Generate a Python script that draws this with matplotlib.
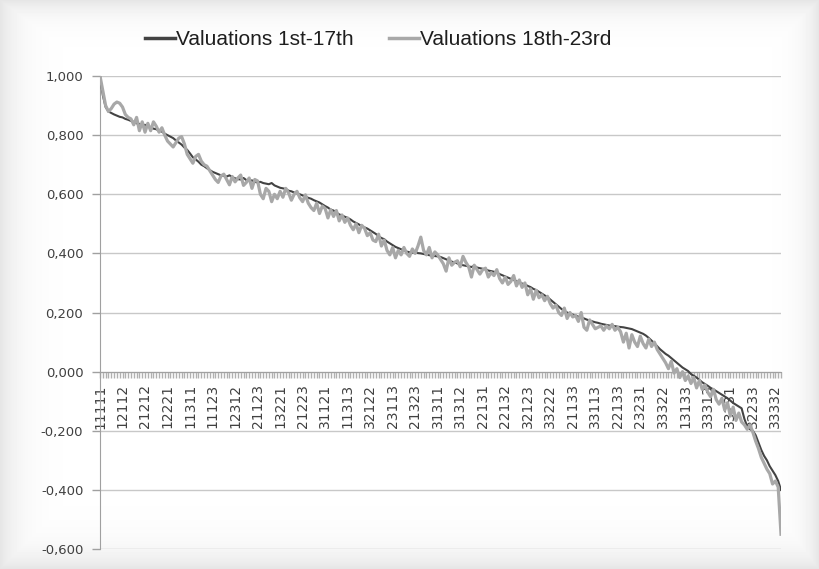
import numpy as np
import matplotlib
matplotlib.use("Agg")
import matplotlib.pyplot as plt
from matplotlib.ticker import FuncFormatter, MultipleLocator

# category labels shown on the axis (every 8th of 243 categories)
tick_labels = ["11111", "12112", "21212", "12221", "11311", "11123", "12312", "21123",
               "13221", "21223", "31121", "11313", "32122", "23113", "21323", "31311",
               "31312", "22131", "22132", "32123", "33222", "21133", "33113", "22133",
               "23231", "33322", "13133", "33313", "33231", "32233", "33332"]
label_step = 8

# Valuations 1st-17th (dark line)
val_1_17 = [
    1.000, 0.935, 0.895, 0.880, 0.875, 0.870, 0.866, 0.862, 0.860, 0.855,
    0.852, 0.848, 0.845, 0.840, 0.838, 0.832, 0.835, 0.828, 0.826, 0.822,
    0.820, 0.815, 0.812, 0.805, 0.800, 0.795, 0.790, 0.782, 0.775, 0.768,
    0.758, 0.750, 0.738, 0.725, 0.718, 0.710, 0.700, 0.695, 0.688, 0.682,
    0.676, 0.672, 0.668, 0.664, 0.662, 0.660, 0.664, 0.658, 0.654, 0.651,
    0.650, 0.655, 0.648, 0.645, 0.647, 0.642, 0.640, 0.642, 0.638, 0.636,
    0.634, 0.638, 0.630, 0.626, 0.622, 0.620, 0.618, 0.612, 0.610, 0.606,
    0.603, 0.600, 0.596, 0.592, 0.588, 0.585, 0.580, 0.576, 0.572, 0.566,
    0.560, 0.555, 0.548, 0.545, 0.538, 0.532, 0.528, 0.524, 0.520, 0.515,
    0.508, 0.503, 0.498, 0.492, 0.488, 0.484, 0.478, 0.472, 0.466, 0.458,
    0.452, 0.448, 0.440, 0.434, 0.428, 0.422, 0.418, 0.414, 0.410, 0.406,
    0.404, 0.402, 0.405, 0.401, 0.400, 0.398, 0.396, 0.394, 0.392, 0.391,
    0.390, 0.388, 0.384, 0.380, 0.376, 0.372, 0.370, 0.366, 0.362, 0.360,
    0.358, 0.356, 0.354, 0.358, 0.352, 0.350, 0.348, 0.346, 0.342, 0.340,
    0.338, 0.335, 0.330, 0.326, 0.322, 0.318, 0.314, 0.310, 0.306, 0.302,
    0.298, 0.295, 0.290, 0.286, 0.280, 0.276, 0.270, 0.264, 0.258, 0.252,
    0.244, 0.236, 0.228, 0.220, 0.212, 0.206, 0.200, 0.196, 0.193, 0.190,
    0.186, 0.183, 0.180, 0.176, 0.173, 0.170, 0.167, 0.165, 0.162, 0.160,
    0.158, 0.156, 0.155, 0.154, 0.152, 0.151, 0.150, 0.148, 0.146, 0.144,
    0.140, 0.136, 0.132, 0.128, 0.122, 0.114, 0.105, 0.096, 0.086, 0.076,
    0.068, 0.060, 0.054, 0.046, 0.038, 0.030, 0.022, 0.014, 0.008, 0.002,
    -0.008, -0.014, -0.020, -0.028, -0.036, -0.042, -0.048, -0.055, -0.060, -0.066,
    -0.072, -0.078, -0.084, -0.090, -0.098, -0.106, -0.112, -0.118, -0.124, -0.160,
    -0.185, -0.195, -0.200, -0.215, -0.240, -0.265, -0.285, -0.300, -0.320, -0.335,
    -0.350, -0.370, -0.400,
]

# Valuations 18th-23rd (light line)
val_18_23 = [
    1.000, 0.950, 0.900, 0.880, 0.890, 0.905, 0.912, 0.908, 0.895, 0.870,
    0.860, 0.855, 0.835, 0.860, 0.815, 0.845, 0.810, 0.840, 0.815, 0.845,
    0.830, 0.810, 0.825, 0.800, 0.780, 0.770, 0.760, 0.775, 0.790, 0.795,
    0.770, 0.735, 0.720, 0.705, 0.728, 0.735, 0.712, 0.700, 0.695, 0.680,
    0.665, 0.650, 0.640, 0.662, 0.668, 0.650, 0.632, 0.660, 0.642, 0.655,
    0.665, 0.630, 0.640, 0.655, 0.620, 0.650, 0.645, 0.600, 0.585, 0.620,
    0.610, 0.575, 0.600, 0.585, 0.610, 0.590, 0.620, 0.605, 0.580, 0.600,
    0.610, 0.588, 0.575, 0.598, 0.570, 0.555, 0.545, 0.570, 0.535, 0.560,
    0.552, 0.520, 0.548, 0.525, 0.545, 0.510, 0.530, 0.505, 0.520, 0.495,
    0.480, 0.500, 0.470, 0.495, 0.485, 0.460, 0.470, 0.445, 0.440, 0.465,
    0.425, 0.445, 0.410, 0.395, 0.420, 0.385, 0.410, 0.395, 0.420, 0.400,
    0.390, 0.415, 0.400, 0.425, 0.455, 0.410, 0.395, 0.420, 0.385, 0.405,
    0.395, 0.380, 0.365, 0.340, 0.385, 0.360, 0.370, 0.375, 0.355, 0.390,
    0.370, 0.355, 0.320, 0.360, 0.345, 0.330, 0.345, 0.350, 0.320, 0.335,
    0.325, 0.345, 0.315, 0.300, 0.320, 0.295, 0.305, 0.325, 0.290, 0.310,
    0.285, 0.300, 0.260, 0.280, 0.245, 0.275, 0.250, 0.260, 0.240, 0.255,
    0.230, 0.215, 0.225, 0.200, 0.190, 0.215, 0.180, 0.200, 0.185, 0.190,
    0.170, 0.200, 0.150, 0.140, 0.175, 0.160, 0.145, 0.150, 0.155, 0.140,
    0.155, 0.145, 0.160, 0.140, 0.150, 0.135, 0.100, 0.130, 0.080, 0.125,
    0.100, 0.085, 0.120, 0.095, 0.080, 0.110, 0.085, 0.100, 0.075, 0.060,
    0.045, 0.030, 0.010, 0.035, -0.005, 0.010, -0.020, 0.000, -0.030, -0.015,
    -0.040, -0.020, -0.055, -0.030, -0.060, -0.045, -0.070, -0.085, -0.060, -0.095,
    -0.110, -0.090, -0.130, -0.105, -0.150, -0.120, -0.165, -0.140, -0.170, -0.180,
    -0.195, -0.180, -0.205, -0.235, -0.260, -0.290, -0.310, -0.330, -0.345, -0.380,
    -0.370, -0.390, -0.550,
]

series_names = ["Valuations 1st-17th", "Valuations 18th-23rd"]

n = len(val_1_17)
x = np.arange(n)

fig = plt.figure(figsize=(8.19, 5.69), dpi=100)
fig.patch.set_facecolor("white")

# soft grey edge like the scanned original
bg = fig.add_axes([0, 0, 1, 1], zorder=-1)
h, w = 569, 819
yy, xx = np.mgrid[0:h, 0:w]
d = np.minimum.reduce([xx / 1.6, (w - 1 - xx) / 1.2, yy / 1.2, (h - 1 - yy) / 1.6])
shade = 1 - 0.10 * np.exp(-d / 12.0)
bg.imshow(shade, cmap="gray", vmin=0, vmax=1, aspect="auto", interpolation="bilinear")
bg.axis("off")

ax = fig.add_axes([0.1221, 0.0351, 0.8315, 0.8313])
ax.patch.set_alpha(0)

ax.plot(x, val_1_17, color="#434343", lw=1.5, label=series_names[0], zorder=3)
ax.plot(x, val_18_23, color="#a8a8a8", lw=2.3, label=series_names[1], zorder=4)

ax.set_xlim(0, n - 1)
ax.set_ylim(-0.6, 1.0)

# y axis: comma decimals like the original spreadsheet
ax.yaxis.set_major_locator(MultipleLocator(0.2))
ax.yaxis.set_major_formatter(FuncFormatter(lambda v, p: f"{v:.3f}".replace(".", ",").replace("-0,000", "0,000")))
ax.yaxis.grid(True, color="#c8c8c8", lw=1.0, zorder=0)
ax.tick_params(axis="y", length=6, width=1, color="#a0a0a0", pad=6,
               labelsize=9.5, labelcolor="#404040")

# x axis crosses at zero, tick every category, label every 8th
ax.spines["bottom"].set_position(("data", 0))
ax.spines["bottom"].set_color("#a0a0a0")
ax.spines["left"].set_color("#a0a0a0")
ax.spines["top"].set_visible(False)
ax.spines["right"].set_visible(False)
ax.set_xticks(np.arange(0, n, label_step))
ax.set_xticklabels(tick_labels, rotation=90, fontsize=10, color="#404040")
ax.set_xticks(x, minor=True)
ax.tick_params(axis="x", which="both", length=4, width=1, color="#b0b0b0",
               direction="out", pad=5)

leg = fig.legend(loc="center", bbox_to_anchor=(0.462, 0.93), ncol=2, frameon=False,
                 handlelength=1.45, handletextpad=0.05, columnspacing=1.7,
                 prop={"family": "Liberation Sans", "size": 15})
for t in leg.get_texts():
    t.set_color("#1e1e1e")
for line in leg.get_lines():
    line.set_linewidth(2.5)

fig.savefig("out.png", dpi=100)
